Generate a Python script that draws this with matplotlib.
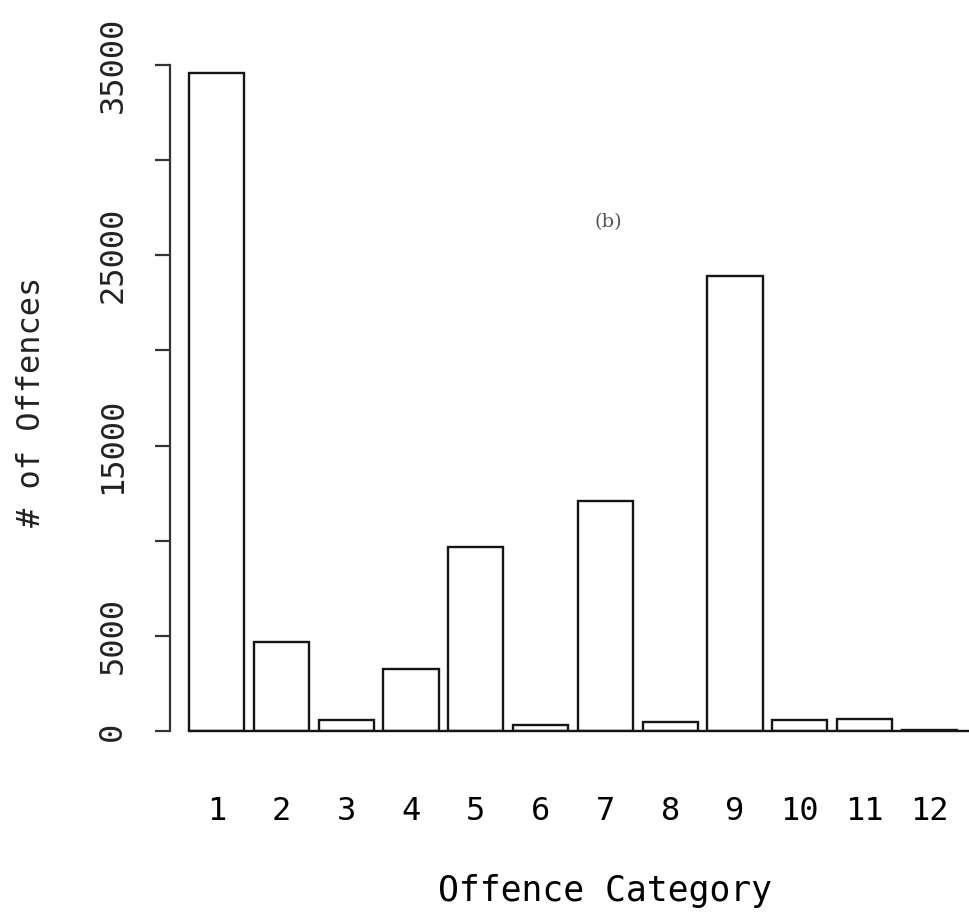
import matplotlib
matplotlib.use("Agg")
import matplotlib.pyplot as plt

# offence counts (b)
categories = [1, 2, 3, 4, 5, 6, 7, 8, 9, 10, 11, 12]
offences = [34580, 4690, 560, 3250, 9650, 320, 12100, 470, 23900, 590, 630, 60]
y_ticks = [0, 5000, 10000, 15000, 20000, 25000, 30000, 35000]
y_ticklabels = ["0", "5000", "", "15000", "", "25000", "", "35000"]

MONO = "DejaVu Sans Mono"
bar_w = 0.85
x_right = 12.597

fig = plt.figure(figsize=(9.7, 9.13), dpi=100)
ax = fig.add_axes([0.1753, 0.1993, 0.8227, 0.7295])

ax.bar(categories, offences, width=bar_w, facecolor="white",
       edgecolor="#151515", linewidth=1.7)

ax.set_xlim(0.282, x_right)
ax.set_ylim(0, 35000)

for side in ["top", "right"]:
    ax.spines[side].set_visible(False)
ax.spines["left"].set_linewidth(1.6)
ax.spines["left"].set_color("#333333")
ax.spines["bottom"].set_linewidth(1.7)
ax.spines["bottom"].set_color("#151515")
ax.spines["bottom"].set_bounds(categories[0] - bar_w / 2, x_right)

ax.set_xticks(categories)
ax.set_xticklabels([str(c) for c in categories], fontfamily=MONO, fontsize=23)
ax.tick_params(axis="x", length=0, pad=47)

ax.set_yticks(y_ticks)
ax.set_yticklabels(y_ticklabels, fontfamily=MONO, fontsize=23, rotation=90,
                   va="center", color="#222222")
ax.tick_params(axis="y", direction="out", length=11, width=1.6, pad=19,
               color="#333333")

ax.set_xlabel("Offence Category", fontfamily=MONO, fontsize=25)
ax.xaxis.set_label_coords(0.545, -0.215)
ax.set_ylabel("# of Offences", fontfamily=MONO, fontsize=23, color="#222222")
ax.yaxis.set_label_coords(-0.154, 0.494)

ax.text(0.549, 0.764, "(b)", transform=ax.transAxes, fontfamily="DejaVu Serif",
        fontsize=14, color="#555555", ha="center", va="center")

fig.savefig("out.png", dpi=100)
